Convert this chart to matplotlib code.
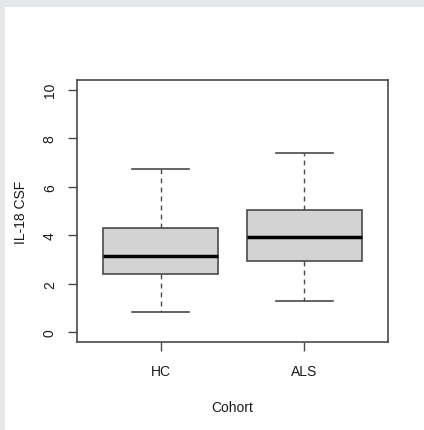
import matplotlib
matplotlib.use("Agg")
import matplotlib.pyplot as plt
from matplotlib.patches import Rectangle

# values (IL-18 in CSF per cohort)
cohorts = ["HC", "ALS"]
whisker_low = [0.85, 1.29]
q1 = [2.40, 2.92]
medians = [3.13, 3.91]
q3 = [4.28, 5.05]
whisker_high = [6.73, 7.39]
y_ticks = [0, 2, 4, 6, 8, 10]

plt.rcParams['font.family'] = ['Liberation Sans', 'DejaVu Sans']

W, H = 424, 431
fig = plt.figure(figsize=(W / 100, H / 100), dpi=100)
fig.patch.set_facecolor('#e6e7e9')
# white page area of the screenshot
fig.patches.append(Rectangle((5 / W, 0), 1, 1 - 8 / H, transform=fig.transFigure,
                             facecolor='white', edgecolor='none', zorder=-10))

ax = fig.add_axes([77 / W, (H - 343) / H, (388 - 77) / W, (343 - 81) / H])
ax.set_facecolor('none')
ax.set_zorder(5)

stats = []
for i, name in enumerate(cohorts):
    stats.append(dict(label=name, whislo=whisker_low[i], q1=q1[i], med=medians[i],
                      q3=q3[i], whishi=whisker_high[i], fliers=[]))

edge = '#4a4a4a'
ax.bxp(stats, positions=[1, 2], widths=0.8, patch_artist=True, showfliers=False,
       boxprops=dict(facecolor='#d3d3d3', edgecolor=edge, linewidth=1.2),
       medianprops=dict(color='black', linewidth=2.5, solid_capstyle='butt'),
       whiskerprops=dict(color=edge, linewidth=1.0, linestyle=(0, (3.5, 3))),
       capprops=dict(color=edge, linewidth=1.2),
       capwidths=0.4)

ax.set_xlim(0.42, 2.58)
ax.set_ylim(-0.4, 10.4)
ax.set_yticks(y_ticks)
ax.set_yticklabels([str(t) for t in y_ticks], rotation=90, va='center')
ax.set_xticks([1, 2])
ax.set_xticklabels(cohorts)

for s in ax.spines.values():
    s.set_color(edge)
    s.set_linewidth(1.2)
ax.tick_params(axis='both', length=6.5, width=1.0, color=edge, labelsize=10,
               labelcolor='#1a1a1a', pad=9)
ax.tick_params(axis='y', pad=8)

ax.set_xlabel('Cohort', fontsize=10, color='#1a1a1a', labelpad=16)
ax.set_ylabel('IL-18 CSF', fontsize=10, color='#1a1a1a', labelpad=11)

fig.savefig('out.png', dpi=100, facecolor=fig.get_facecolor())
